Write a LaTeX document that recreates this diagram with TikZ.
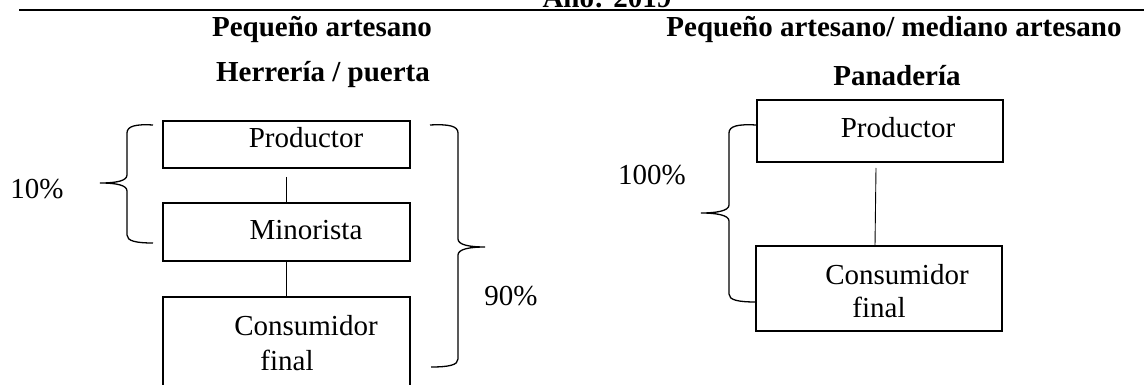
\documentclass[tikz,border=0pt]{standalone}
\usepackage{fontspec}
\setmainfont{Liberation Serif}
\begin{document}
\begin{tikzpicture}[x=1pt,y=-1pt,
  box/.style={draw, line width=1.3pt, anchor=north west, inner sep=0pt, outer sep=0pt},
  txt/.style={font=\fontsize{29}{34}\selectfont, anchor=base, inner sep=0pt},
  hdr/.style={font=\fontsize{29}{34}\selectfont\bfseries, anchor=base, inner sep=0pt},
  conn/.style={line width=0.9pt},
  brace/.style={line width=1.3pt},
  rule/.style={line width=1.6pt}]
\useasboundingbox (0,0) rectangle (1144,385);

% title (cut off) and rule
\node[hdr] (year) at (607,8) {Año: 2019};
\coordinate (ruleA) at (19,10);
\coordinate (ruleB) at (1144,10);
\draw[rule] (ruleA) -- (ruleB);

% headers
\node[hdr] (h1) at (322,37) {Pequeño artesano};
\node[hdr] (h2) at (894,37) {Pequeño artesano/ mediano artesano};
\node[hdr] (s1) at (323,82) {Herrería / puerta};
\node[hdr] (s2) at (897,86) {Panadería};

% left chain
\node[box, minimum width=247pt, minimum height=47pt] (P1) at (163,121) {};
\node[box, minimum width=247pt, minimum height=58pt] (M1) at (163,203) {};
\node[box, minimum width=247pt, minimum height=95pt] (C1) at (163,297) {};
\node[txt] (tP1) at (306,148) {Productor};
\node[txt] (tM1) at (306,240) {Minorista};
\node[txt] (tC1) at (306,335) {Consumidor};
\node[txt] (tC1b) at (287,370) {final};
\draw[conn] ([yshift=-9pt]P1.south) -- (M1.north);
\draw[conn] (M1.south) -- (C1.north);

% right chain
\node[box, minimum width=246pt, minimum height=62pt] (P2) at (757,100) {};
\node[box, minimum width=246pt, minimum height=85pt] (C2) at (756,246) {};
\node[txt] (tP2) at (898,138) {Productor};
\node[txt] (tC2) at (897,284) {Consumidor};
\node[txt] (tC2b) at (879,317) {final};
\draw[conn] ([xshift=-4pt,yshift=-6pt]P2.south) -- ([xshift=-4pt]C2.north);

% braces
\draw[brace] (153,125) .. controls (136,124) and (127,126) .. (127,133)
  -- (127,175) .. controls (127,181) and (116,183) .. (100,183)
  .. controls (116,183) and (127,185) .. (127,191)
  -- (127,235) .. controls (127,241) and (136,243) .. (153,243);
\draw[brace] (430,125) .. controls (449,124) and (458,126) .. (458,133)
  -- (458,239) .. controls (458,245) and (470,247) .. (485,247)
  .. controls (470,247) and (458,249) .. (458,255)
  -- (458,359) .. controls (458,365) and (449,367) .. (431,367);
\draw[brace] (756,125) .. controls (738,124) and (729,126) .. (729,133)
  -- (729,205) .. controls (729,211) and (716,213) .. (701,213)
  .. controls (716,213) and (729,215) .. (729,221)
  -- (729,294) .. controls (729,300) and (738,302) .. (756,302);

% percentages
\node[txt] (p10) at (37,198) {10\%};
\node[txt] (p90) at (511,305) {90\%};
\node[txt] (p100) at (652,185) {100\%};
\end{tikzpicture}
\end{document}
